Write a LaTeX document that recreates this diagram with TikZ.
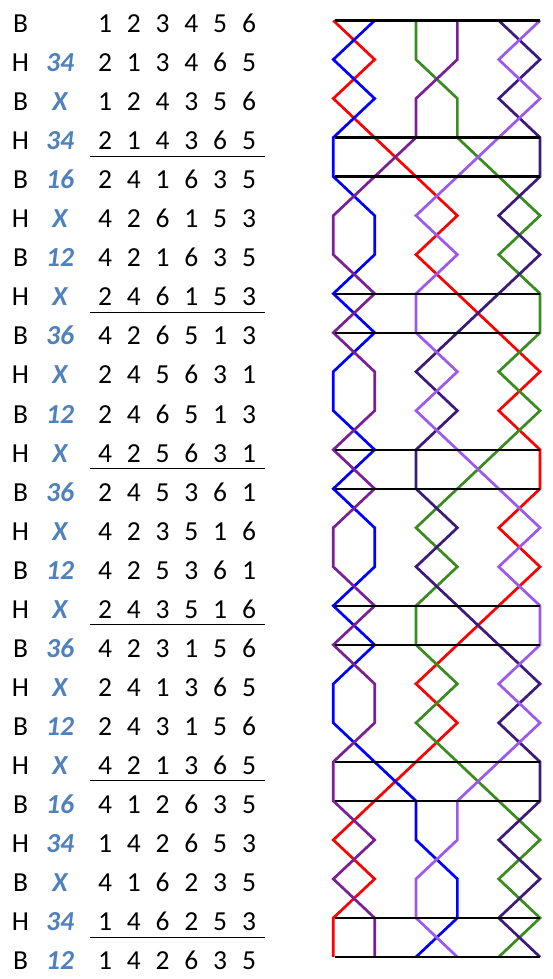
\documentclass[tikz,border=0pt]{standalone}
\usepackage{fontspec}
\setmainfont{Carlito}
\definecolor{bellA}{HTML}{FF0000}
\definecolor{bellB}{HTML}{0000FF}
\definecolor{bellC}{HTML}{3A8C1E}
\definecolor{bellD}{HTML}{7A1F96}
\definecolor{bellE}{HTML}{3C1A7A}
\definecolor{bellF}{HTML}{9B59F0}
\definecolor{labblue}{HTML}{4F81BD}
\newcommand\tabrow[4]{%
  \pgfmathsetmacro\yb{32.4+39.06*#1}%
  \node[txt] (bh#1) at (20.5,\yb) {#2};%
  \if\relax\detokenize{#3}\relax\else\node[lab] (lab#1) at (60,\yb) {#3};\fi
  \foreach \d [count=\j] in {#4} {\node[txt] (d#1-\j) at ({105+28.8*(\j-1)},\yb) {\d};}%
}
\begin{document}
\begin{tikzpicture}[x=1pt,y=-1pt,
  txt/.style={anchor=base, inner sep=0pt, font=\fontsize{27.5}{30}\selectfont},
  lab/.style={anchor=base, inner sep=0pt, font=\fontsize{27.5}{30}\selectfont\bfseries\itshape, text=labblue},
  bellpath/.style={line width=2.7pt, line join=miter},
  ruleline/.style={line width=2.2pt, black},
  underl/.style={line width=1pt, black}]
\useasboundingbox (0,0) rectangle (552,979);
\fill[white] (0,0) rectangle (552,979);
% table
\tabrow{0}{B}{}{1,2,3,4,5,6}
\tabrow{1}{H}{34}{2,1,3,4,6,5}
\tabrow{2}{B}{X}{1,2,4,3,5,6}
\tabrow{3}{H}{34}{2,1,4,3,6,5}
\tabrow{4}{B}{16}{2,4,1,6,3,5}
\tabrow{5}{H}{X}{4,2,6,1,5,3}
\tabrow{6}{B}{12}{4,2,1,6,3,5}
\tabrow{7}{H}{X}{2,4,6,1,5,3}
\tabrow{8}{B}{36}{4,2,6,5,1,3}
\tabrow{9}{H}{X}{2,4,5,6,3,1}
\tabrow{10}{B}{12}{2,4,6,5,1,3}
\tabrow{11}{H}{X}{4,2,5,6,3,1}
\tabrow{12}{B}{36}{2,4,5,3,6,1}
\tabrow{13}{H}{X}{4,2,3,5,1,6}
\tabrow{14}{B}{12}{4,2,5,3,6,1}
\tabrow{15}{H}{X}{2,4,3,5,1,6}
\tabrow{16}{B}{36}{4,2,3,1,5,6}
\tabrow{17}{H}{X}{2,4,1,3,6,5}
\tabrow{18}{B}{12}{2,4,3,1,5,6}
\tabrow{19}{H}{X}{4,2,1,3,6,5}
\tabrow{20}{B}{16}{4,1,2,6,3,5}
\tabrow{21}{H}{34}{1,4,2,6,5,3}
\tabrow{22}{B}{X}{4,1,6,2,3,5}
\tabrow{23}{H}{34}{1,4,6,2,5,3}
\tabrow{24}{B}{12}{1,4,2,6,3,5}
\foreach \k in {3,7,11,15,19,23} {
  \draw[underl] (90,{19.3+39.06*(\k+0.5)}) -- (265,{19.3+39.06*(\k+0.5)});
}
% diagram
\begin{scope}[shift={(291.95,20.5)}, x=41.35pt, y=-39.02pt]
  \draw[bellpath, bellA] (1,0) \foreach \p [count=\r] in {2,1,2,3,4,3,4,5,6,5,6,6,5,6,5,4,3,4,3,2,1,2,1,1} { -- (\p,\r) };
  \draw[bellpath, bellB] (2,0) \foreach \p [count=\r] in {1,2,1,1,2,2,1,2,1,1,2,1,2,2,1,2,1,1,2,3,3,4,4,3} { -- (\p,\r) };
  \draw[bellpath, bellC] (3,0) \foreach \p [count=\r] in {3,4,4,5,6,5,6,6,5,6,5,4,3,4,3,3,4,3,4,5,6,5,6,5} { -- (\p,\r) };
  \draw[bellpath, bellD] (4,0) \foreach \p [count=\r] in {4,3,3,2,1,1,2,1,2,2,1,2,1,1,2,1,2,2,1,1,2,1,2,2} { -- (\p,\r) };
  \draw[bellpath, bellE] (5,0) \foreach \p [count=\r] in {6,5,6,6,5,6,5,4,3,4,3,3,4,3,4,5,6,5,6,6,5,6,5,6} { -- (\p,\r) };
  \draw[bellpath, bellF] (6,0) \foreach \p [count=\r] in {5,6,5,4,3,4,3,3,4,3,4,5,6,5,6,6,5,6,5,4,4,3,3,4} { -- (\p,\r) };
  \foreach \r in {0,3,4,7,8,11,12,15,16,19,20,23,24} {
    \draw[ruleline] ([xshift=2pt]1,\r) -- (6,\r);
  }
\end{scope}
\end{tikzpicture}
\end{document}
